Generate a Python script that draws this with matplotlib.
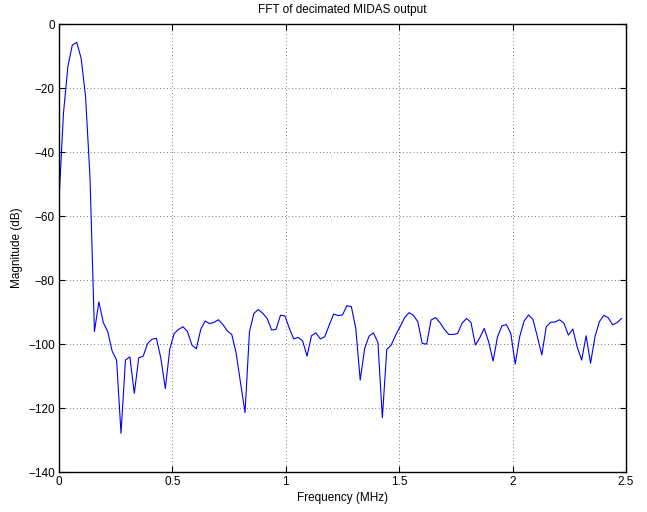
import matplotlib
matplotlib.use('Agg')
import matplotlib.pyplot as plt
import numpy as np

plt.rcParams['font.family'] = ['Liberation Sans', 'DejaVu Sans']

# 256-pt FFT at 5 MHz, first half shown
fs = 5.0
nfft = 256
freq = np.arange(nfft // 2) * fs / nfft

mag_db = [
    -55, -28, -13.3, -6.6, -5.7, -10.7, -22.7, -48, -96.1, -86.8,
    -93.3, -96.1, -102.2, -105, -127.9, -105, -104, -115.4, -104.3, -103.8,
    -99.8, -98.5, -98.2, -104.5, -113.9, -101.7, -96.7, -95.4, -94.6, -96.1,
    -100.3, -101.5, -95.4, -92.8, -93.6, -93.2, -92.4, -93.9, -95.9, -97,
    -102.9, -112.3, -121.4, -96.1, -90.4, -89.2, -90.4, -92, -95.6, -95.4,
    -91, -91.2, -95.1, -98.4, -97.9, -99, -103.75, -97.4, -96.5, -98.4,
    -97.7, -94.1, -90.6, -91.1, -90.9, -88, -88.3, -95.1, -111.25, -101.4,
    -97.5, -96.5, -99.5, -123, -101.7, -100.3, -97.2, -94.6, -91.8, -90.2,
    -91, -93, -99.8, -100, -92.5, -91.7, -93.3, -95.4, -97, -97,
    -96.7, -93.5, -92, -93.2, -100.3, -98, -95.1, -99.3, -105.3, -97.7,
    -94.3, -93.9, -96.7, -106.25, -97.7, -92.8, -90.9, -92.3, -97.7, -103.4,
    -94.6, -93.2, -93.1, -92.4, -93.5, -97.2, -95.3, -101, -105, -97.4,
    -106, -97.7, -93, -91, -91.8, -94, -93.3, -92,
]

xticks = [0, 0.5, 1, 1.5, 2, 2.5]
xticklabels = ['0', '0.5', '1', '1.5', '2', '2.5']
yticks = [0, -20, -40, -60, -80, -100, -120, -140]

fig = plt.figure(figsize=(6.47, 5.12), dpi=100)
ax = fig.add_axes([0.0912, 0.078, 0.8763, 0.875])

ax.plot(freq, mag_db, color=(0, 0, 1), linewidth=0.8)

ax.set_xlim(0, 2.5)
ax.set_ylim(-140, 0)
ax.set_xticks(xticks)
ax.set_xticklabels(xticklabels)
ax.set_yticks(yticks)
ax.set_yticklabels(['\u2212%d' % -v if v < 0 else '%d' % v for v in yticks])

ax.grid(True, color='k', linestyle=(0, (1, 4)), linewidth=0.5)
ax.tick_params(direction='in', top=True, right=True, length=4, width=0.8,
               labelsize=8.5, pad=3)
for sp in ax.spines.values():
    sp.set_linewidth(1.0)

ax.set_xlabel('Frequency (MHz)', fontsize=8.5, labelpad=3)
ax.set_ylabel('Magnitude (dB)', fontsize=8.5, labelpad=4)
ax.set_title('FFT of decimated MIDAS output', fontsize=8.5, pad=8)

fig.savefig('out.png', dpi=100)
